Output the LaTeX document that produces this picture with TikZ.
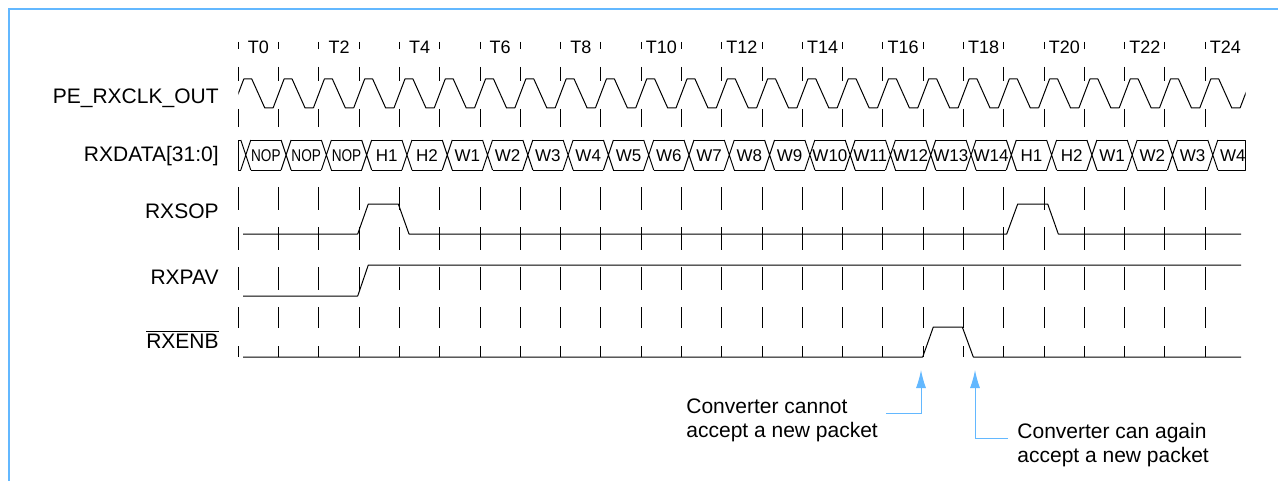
\documentclass[tikz,border=0pt]{standalone}
\usepackage{graphicx}
\usepackage{fontspec}
\setmainfont{Liberation Sans}
\usetikzlibrary{arrows.meta, calc}
\definecolor{NoteBlue}{RGB}{99, 184, 255}

% first clock edge and clock period (px)
\newcommand{\tzero}{238.3}
\newcommand{\tper}{40.29}
\newcommand{\nopword}{\scalebox{0.8}[1]{NOP}}

\begin{document}
\begin{tikzpicture}[x=0.5pt, y=-0.5pt,
    wave/.style={line width=0.5pt, line join=round},
    gridtick/.style={line width=0.5pt},
    siglabel/.style={anchor=base east, inner sep=0pt, font=\fontsize{10.5}{12}\selectfont},
    cyclabel/.style={anchor=base, inner sep=0pt, font=\fontsize{9}{10}\selectfont},
    buslabel/.style={anchor=base, inner sep=0pt, font=\fontsize{8.5}{9}\selectfont},
    note/.style={anchor=north west, inner sep=0pt, align=left, font=\fontsize{10.5}{12}\selectfont},
    callout/.style={draw=NoteBlue, line width=0.5pt, -{Latex[length=9pt, width=5pt]}}
  ]
  \useasboundingbox (0,0) rectangle (1278,481);
  \draw[NoteBlue, line width=1pt] (9,481) -- (9,9) -- (1278,9);

  % signal names
  \node[siglabel] (clklbl) at (219,103.3) {PE\_RXCLK\_OUT};
  \node[siglabel] (datalbl) at (219,161.7) {RXDATA[31:0]};
  \node[siglabel] (soplbl) at (219,218.3) {RXSOP};
  \node[siglabel] (pavlbl) at (219,284.5) {RXPAV};
  \node[siglabel] (enblbl) at (219,348.5) {$\overline{\hbox{RXENB}}$};

  % cycle grid
  \foreach \i in {0,...,24} {
    \pgfmathsetmacro{\tk}{\tzero+\i*\tper}
    \foreach \ya/\yb in {42/49, 67/81, 109/127, 187/210, 227/250, 267/290, 307/328, 346/357}
      \draw[gridtick] (\tk,\ya) -- (\tk,\yb);
  }
  \foreach \n in {0,2,...,24}
    \node[cyclabel] (cyc\n) at ({\tzero+\n*\tper+20.15},53.5) {T\n};

  % clock
  \begin{scope}
    \clip (\tzero,60) rectangle ({\tzero+25*\tper},120);
    \foreach \i in {0,...,25} {
      \pgfmathsetmacro{\tk}{\tzero+\i*\tper}
      \draw[wave] ({\tk-5.5},108) -- ({\tk+5.5},79) -- ({\tk+13.5},79)
        -- ({\tk+26.5},108) -- ({\tk+34.8},108);
    }
  \end{scope}

  % data bus
  \draw[wave] ({\tzero+2.5},140) -- (\tzero,140) -- (\tzero,170) -- ({\tzero+2.5},170);
  \foreach \i in {0,...,24} {
    \pgfmathsetmacro{\cx}{\tzero+\i*\tper+7.5}
    \draw[wave] ({\cx-5},140) -- ({\cx+5},170) ({\cx-5},170) -- ({\cx+5},140);
  }
  \foreach \i in {0,...,23} {
    \pgfmathsetmacro{\cx}{\tzero+\i*\tper+7.5}
    \draw[wave] ({\cx+5},140) -- ({\cx+\tper-5},140) ({\cx+5},170) -- ({\cx+\tper-5},170);
  }
  \draw[wave] ({\tzero+24*\tper+12.5},140) -- ({\tzero+25*\tper},140)
    -- ({\tzero+25*\tper},170) -- ({\tzero+24*\tper+12.5},170);
  \foreach \w [count=\n from 0] in {\nopword,\nopword,\nopword,H1,H2,W1,W2,W3,W4,W5,W6,W7,W8,
      W9,W10,W11,W12,W13,W14,H1,H2,W1,W2,W3,W4}
    \node[buslabel] (word\n) at ({\tzero+\n*\tper+27.6},161) {\w};

  % control signals
  \draw[wave] (243,234) -- (357.7,234) -- (368.3,204) -- (398.3,204) -- (409,234)
    -- (1006.7,234) -- (1017.7,204) -- (1047.7,204) -- (1058.3,234) -- (1241,234);
  \draw[wave] (243,296) -- (357.7,296) -- (368.3,265) -- (1241,265);
  \draw[wave] (243,357) -- (922.7,357) -- (933.3,327) -- (962.3,327) -- (973.3,357) -- (1241,357);

  % notes
  \coordinate (enbrise) at (921,370);
  \coordinate (enbfall) at (975,370);
  \coordinate (cannotbend) at (886,413);
  \coordinate (canbend) at (1008,438);
  \node[note] (cannot) at (686,398.5) {Converter cannot\\accept a new packet};
  \node[note] (canagain) at (1017,422.5) {Converter can again\\accept a new packet};
  \draw[callout] (cannotbend) -| (enbrise);
  \draw[callout] (canbend) -| (enbfall);
\end{tikzpicture}
\end{document}
